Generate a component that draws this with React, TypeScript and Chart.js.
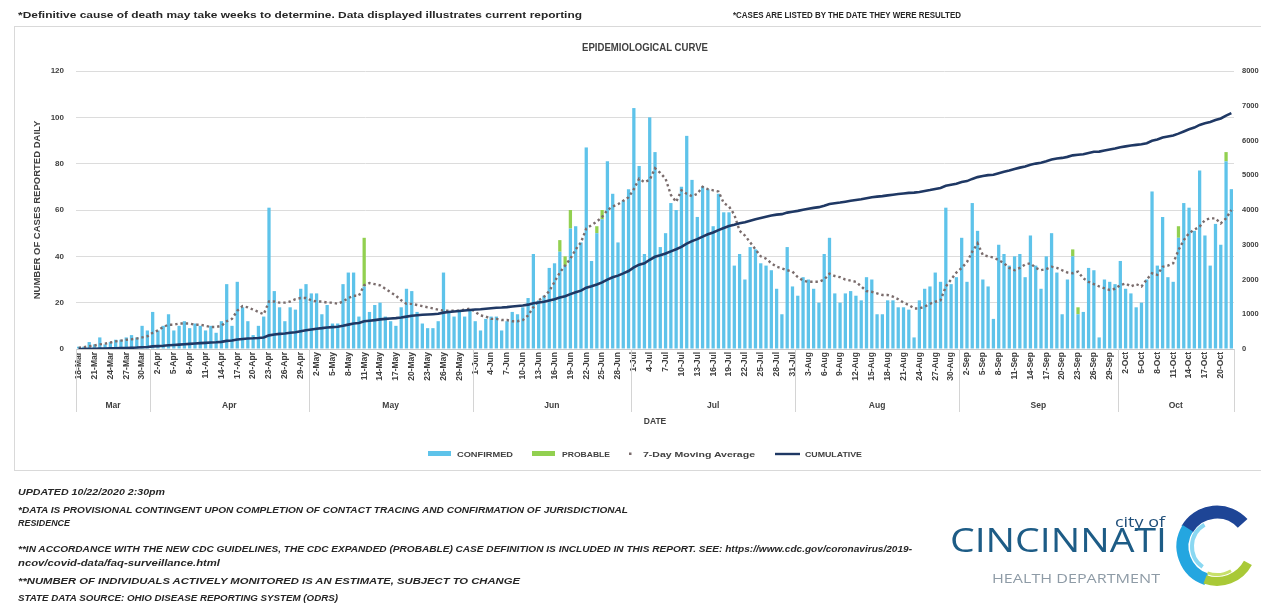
import React, { useEffect, useRef } from 'react';
import { Chart, registerables } from 'chart.js';

Chart.register(...registerables);

// ---------- categories ----------
const MONTHS = ['Mar', 'Apr', 'May', 'Jun', 'Jul', 'Aug', 'Sep', 'Oct'];
const MONTH_FIRST_DAY = [18, 1, 1, 1, 1, 1, 1, 1];
const MONTH_DAY_COUNT = [14, 30, 31, 30, 31, 31, 30, 22];
const TICK_EVERY = 3;

const DATES: string[] = [];
MONTHS.forEach((m, k) => {
  for (let i = 0; i < MONTH_DAY_COUNT[k]; i++) DATES.push(`${MONTH_FIRST_DAY[k] + i}-${m}`);
});

// ---------- series values ----------
const CONFIRMED = [
  // Mar 18-31
  1, 1, 3, 2, 5, 2, 3, 4, 4, 5, 6, 5, 10, 8,
  // Apr
  16, 8, 10, 15, 8, 10, 12, 9, 11, 10, 8, 10, 7, 12, 28, 10, 29, 18, 12, 6, 10, 14, 61, 25, 18, 12, 18, 17, 26, 28,
  // May
  24, 24, 15, 19, 11, 11, 28, 33, 33, 14, 27, 16, 19, 20, 14, 12, 10, 18, 26, 25, 16, 11, 9, 9, 12, 33, 16, 14, 16, 14, 17,
  // Jun
  12, 8, 13, 14, 14, 8, 12, 16, 15, 18, 22, 41, 21, 23, 35, 37, 42, 36, 52, 53, 46, 87, 38, 50, 56, 81, 67, 46, 64, 69,
  // Jul
  104, 79, 41, 100, 85, 44, 50, 63, 60, 70, 92, 73, 57, 70, 69, 53, 67, 59, 59, 36, 41, 30, 44, 43, 37, 36, 34, 26, 15, 44, 27,
  // Aug
  23, 31, 30, 26, 20, 41, 48, 24, 20, 24, 25, 23, 21, 31, 30, 15, 15, 21, 21, 18, 18, 17, 5, 21, 26, 27, 33, 29, 61, 28, 31,
  // Sep
  48, 29, 63, 51, 30, 27, 13, 45, 41, 36, 40, 41, 31, 49, 36, 26, 40, 50, 33, 15, 30, 40, 15, 16, 35, 34, 5, 30, 29, 28,
  // Oct 1-22
  38, 26, 24, 18, 20, 30, 68, 36, 57, 31, 29, 48, 63, 61, 51, 77, 49, 36, 54, 45, 81, 69,
];

const PROBABLE_DATES = ['11-May', '17-Jun', '18-Jun', '19-Jun', '24-Jun', '25-Jun', '22-Sep', '23-Sep', '12-Oct', '21-Oct'];
const PROBABLE_VALUES = [21, 5, 4, 8, 3, 4, 3, 3, 5, 4];

const MOVING_AVG = [
  // Mar
  0.5, 0.8, 1.2, 1.5, 2, 2.3, 2.8, 3.3, 3.6, 4, 4.2, 4.5, 5, 5.5,
  // Apr
  7, 8, 9.5, 10.5, 10.5, 11, 11, 11, 10.5, 10.5, 10, 9.5, 9.5, 10, 12, 13, 16.5, 18.5, 18, 17, 16, 15, 20.5, 20.5, 20, 20, 20.5, 21.5, 22, 22,
  // May
  21, 20.5, 20.5, 20, 20, 19.5, 20.5, 22, 23, 23, 27.5, 28.5, 28, 27.5, 26, 24.5, 23, 21, 19.5, 19.5, 19, 18.5, 18, 17.5, 17, 16.5, 16.5, 16.5, 16.5, 17, 17.5,
  // Jun
  16, 14.5, 14, 13, 13, 12.5, 12.5, 12, 12, 12.5, 14.5, 18, 21, 22.5, 25, 29, 33, 36, 39, 43, 46, 52, 53.5, 55, 57, 60, 61.5, 62.5, 64, 65.5,
  // Jul
  69, 73.5, 72, 73, 78, 76, 73.5, 66.5, 63.5, 68.5, 67, 66, 67, 70, 69, 68.5, 68, 63, 61.5, 58, 51, 49, 46, 43, 40, 39, 37, 35.5, 34.8, 34, 33.4,
  // Aug
  31, 29.5, 29, 29, 29, 30, 32.5, 31.5, 31, 30, 29.5, 29, 27, 25, 24.7, 24, 23.3, 23.3, 22.6, 21.5, 20, 19, 17.5, 17.5, 18.3, 19.5, 20.4, 21, 27, 30, 33,
  // Sep
  35, 37.5, 42, 45.6, 40.6, 40, 39.5, 38.4, 37, 35, 34, 35, 36.5, 37, 35, 34, 34.5, 35.5, 35, 34, 33, 32.7, 33.4, 30.5, 29, 28, 27, 26.2, 25.5, 26,
  // Oct
  27.6, 28.3, 27, 28, 27, 30, 32.7, 32, 35.5, 36, 37, 42.7, 47, 50, 51.5, 52.8, 55.7, 56.4, 56.4, 54.2, 56.4, 60,
];

const CUMULATIVE = [
  // Mar
  1, 2, 5, 7, 12, 14, 17, 21, 25, 30, 36, 41, 51, 59,
  // Apr
  75, 83, 93, 108, 116, 126, 138, 147, 158, 168, 176, 186, 193, 205, 233, 243, 272, 290, 302, 308, 318, 332, 393, 418, 436, 448, 466, 483, 509, 537,
  // May
  561, 585, 600, 619, 630, 641, 669, 702, 735, 749, 797, 813, 832, 852, 866, 878, 888, 906, 932, 957, 973, 984, 993, 1002, 1014, 1047, 1063, 1077, 1093, 1107, 1124,
  // Jun
  1136, 1144, 1157, 1171, 1185, 1193, 1205, 1221, 1236, 1254, 1276, 1317, 1338, 1361, 1396, 1433, 1480, 1520, 1580, 1633, 1679, 1766, 1804, 1857, 1917, 1998, 2065, 2111, 2175, 2244,
  // Jul
  2348, 2427, 2468, 2568, 2653, 2697, 2747, 2810, 2870, 2940, 3032, 3105, 3162, 3232, 3301, 3354, 3421, 3480, 3539, 3575, 3616, 3646, 3690, 3733, 3770, 3806, 3840, 3866, 3881, 3925, 3952,
  // Aug
  3975, 4006, 4036, 4062, 4082, 4123, 4171, 4195, 4215, 4239, 4264, 4287, 4308, 4339, 4369, 4384, 4399, 4420, 4441, 4459, 4477, 4494, 4499, 4520, 4546, 4573, 4606, 4635, 4696, 4724, 4755,
  // Sep
  4803, 4832, 4895, 4946, 4976, 5003, 5016, 5061, 5102, 5138, 5178, 5219, 5250, 5299, 5335, 5361, 5401, 5451, 5484, 5499, 5529, 5572, 5590, 5606, 5641, 5675, 5680, 5710, 5739, 5767,
  // Oct
  5805, 5831, 5855, 5873, 5893, 5923, 5991, 6027, 6084, 6115, 6144, 6197, 6260, 6321, 6372, 6449, 6498, 6534, 6588, 6633, 6718, 6787,
];

// axis ranges
const LEFT_MAX = 120;
const LEFT_STEP = 20;
const RIGHT_MAX = 8000;
const RIGHT_STEP = 1000;

const PROBABLE = DATES.map((d) => {
  const k = PROBABLE_DATES.indexOf(d);
  return k >= 0 ? PROBABLE_VALUES[k] : 0;
});

const FONT = "'Liberation Sans', Arial, sans-serif";
const SVG_FONT = "'Liberation Sans Narrow', 'Liberation Sans', Arial, sans-serif";
const TEXT = '#404040';

const monthRowPlugin = {
  id: 'monthRow',
  afterDraw(chart: any) {
    const { ctx, chartArea } = chart;
    const x = chart.scales.x;
    const half = (x.getPixelForValue(1) - x.getPixelForValue(0)) / 2;
    const top = chartArea.bottom;
    const bottom = chartArea.bottom + 63;
    ctx.save();
    ctx.strokeStyle = '#d4d4d4';
    ctx.lineWidth = 1;
    ctx.fillStyle = TEXT;
    ctx.font = `bold 8.5px ${FONT}`;
    ctx.textAlign = 'center';
    ctx.textBaseline = 'middle';
    const vline = (px: number) => {
      const p = Math.round(px) + 0.5;
      ctx.beginPath();
      ctx.moveTo(p, top);
      ctx.lineTo(p, bottom);
      ctx.stroke();
    };
    let idx = 0;
    MONTHS.forEach((m, k) => {
      const start = idx;
      const end = idx + MONTH_DAY_COUNT[k] - 1;
      const x0 = x.getPixelForValue(start) - half;
      const x1 = x.getPixelForValue(end) + half;
      vline(x0);
      if (k === MONTHS.length - 1) vline(x1);
      ctx.fillText(m, (x0 + x1) / 2, chartArea.bottom + 57);
      idx = end + 1;
    });
    ctx.restore();
  },
};

function T(props: {
  x: number; y: number; len: number; size: number; children: string;
  weight?: string; italic?: boolean; fill?: string; family?: string;
}) {
  return (
    <text
      x={props.x}
      y={props.y}
      textLength={props.len}
      lengthAdjust="spacingAndGlyphs"
      fontSize={props.size}
      fontWeight={props.weight ?? 'bold'}
      fontStyle={props.italic ? 'italic' : 'normal'}
      fill={props.fill ?? '#262626'}
      fontFamily={props.family ?? SVG_FONT}
    >
      {props.children}
    </text>
  );
}

function arcPath(cx: number, cy: number, r: number, a0: number, a1: number) {
  // angles in degrees, math convention (counter-clockwise, y up)
  const p = (a: number) => [cx + r * Math.cos((a * Math.PI) / 180), cy - r * Math.sin((a * Math.PI) / 180)];
  const [x0, y0] = p(a0);
  const [x1, y1] = p(a1);
  const large = Math.abs(a1 - a0) > 180 ? 1 : 0;
  return `M ${x0.toFixed(2)} ${y0.toFixed(2)} A ${r} ${r} 0 ${large} 0 ${x1.toFixed(2)} ${y1.toFixed(2)}`;
}

export default function App() {
  const canvasRef = useRef<HTMLCanvasElement>(null);

  useEffect(() => {
    if (!canvasRef.current) return;
    const chart = new Chart(canvasRef.current, {
      type: 'bar',
      data: {
        labels: DATES,
        datasets: [
          {
            type: 'line',
            label: 'CUMULATIVE',
            data: CUMULATIVE,
            yAxisID: 'y1',
            borderColor: '#1f3864',
            borderWidth: 2.6,
            pointRadius: 0,
            tension: 0,
            order: 0,
            stack: 'cum',
          } as any,
          {
            type: 'line',
            label: '7-Day Moving Average',
            data: MOVING_AVG,
            yAxisID: 'y',
            borderColor: '#7a6c6c',
            borderWidth: 2.4,
            borderDash: [2.4, 2.9],
            pointRadius: 0,
            tension: 0,
            order: 1,
            stack: 'avg',
          } as any,
          {
            type: 'bar',
            label: 'CONFIRMED',
            data: CONFIRMED,
            yAxisID: 'y',
            backgroundColor: '#5ec3ea',
            barPercentage: 0.62,
            categoryPercentage: 1,
            order: 2,
            stack: 'cases',
          },
          {
            type: 'bar',
            label: 'PROBABLE',
            data: PROBABLE,
            yAxisID: 'y',
            backgroundColor: '#92d050',
            barPercentage: 0.62,
            categoryPercentage: 1,
            order: 3,
            stack: 'cases',
          },
        ],
      },
      options: {
        animation: false,
        responsive: true,
        maintainAspectRatio: false,
        layout: { padding: { left: 14, right: 0, top: 44, bottom: 36 } },
        plugins: {
          legend: { display: false },
          title: { display: false },
          tooltip: { enabled: false },
        },
        scales: {
          x: {
            stacked: true,
            grid: { display: false, drawTicks: false },
            border: { display: true, color: '#c8c8c8' },
            ticks: {
              autoSkip: false,
              minRotation: 90,
              maxRotation: 90,
              padding: 3,
              color: TEXT,
              font: { family: FONT, size: 8.5, weight: 'bold' },
              callback: (_v: any, i: number) => (i % TICK_EVERY === 0 ? DATES[i] : ''),
            },
            title: {
              display: true,
              text: 'DATE',
              color: TEXT,
              font: { family: FONT, size: 8.5, weight: 'bold' },
              padding: { top: 0, bottom: 7 },
            },
            afterFit: (s: any) => { s.height = 85; },
          },
          y: {
            stacked: true,
            position: 'left',
            min: 0,
            max: LEFT_MAX,
            grid: { color: '#dcdcdc', drawTicks: false },
            border: { display: false },
            ticks: {
              stepSize: LEFT_STEP,
              padding: 12,
              color: TEXT,
              font: { family: FONT, size: 8, weight: 'bold' },
            },
            title: {
              display: true,
              text: 'NUMBER OF CASES REPORTED DAILY',
              color: TEXT,
              font: { family: FONT, size: 9.5, weight: 'bold' },
              padding: { top: 4, bottom: 0 },
            },
            afterFit: (s: any) => { s.width = 48; },
          },
          y1: {
            position: 'right',
            min: 0,
            max: RIGHT_MAX,
            grid: { display: false, drawTicks: false },
            border: { display: false },
            ticks: {
              stepSize: RIGHT_STEP,
              padding: 8,
              color: TEXT,
              font: { family: FONT, size: 7.5, weight: 'bold' },
              callback: (v: any) => String(v),
            },
            afterFit: (s: any) => { s.width = 27; },
          },
        },
      } as any,
      plugins: [monthRowPlugin],
    });
    return () => chart.destroy();
  }, []);

  const cx = 1217;
  const cy = 546.5;

  return (
    <div style={{ position: 'absolute', left: 0, top: 0, width: 1261, height: 605, overflow: 'hidden', background: '#ffffff' }}>
      <div
        style={{
          position: 'absolute', left: 14, top: 26, width: 1270, height: 445,
          border: '1px solid #d9d9d9', boxSizing: 'border-box',
        }}
      />
      <div style={{ position: 'absolute', left: 14, top: 27, width: 1247, height: 443 }}>
        <canvas ref={canvasRef} style={{ display: 'block' }} />
      </div>
      <svg
        width={1261}
        height={605}
        style={{ position: 'absolute', left: 0, top: 0, pointerEvents: 'none' }}
      >
        {/* header notes */}
        <T x={18} y={18} len={564} size={9.5}>*Definitive cause of death may take weeks to determine. Data displayed illustrates current reporting</T>
        <T x={733} y={18} len={228} size={9.5}>*CASES ARE LISTED BY THE DATE THEY WERE RESULTED</T>

        {/* chart title */}
        <T x={582} y={51} len={126} size={10} fill="#404040">EPIDEMIOLOGICAL CURVE</T>

        {/* legend */}
        <rect x={428} y={451} width={23} height={5} fill="#5ec3ea" />
        <T x={457} y={457} len={56} size={8} fill="#404040">CONFIRMED</T>
        <rect x={532} y={451} width={23} height={5} fill="#92d050" />
        <T x={562} y={457} len={48} size={8} fill="#404040">PROBABLE</T>
        <rect x={629} y={452.5} width={2.5} height={2.5} fill="#7a6c6c" />
        <T x={643} y={457} len={112} size={8} fill="#404040">7-Day Moving Average</T>
        <line x1={775} y1={454} x2={800} y2={454} stroke="#1f3864" strokeWidth={2.4} />
        <T x={805} y={457} len={57} size={8} fill="#404040">CUMULATIVE</T>

        {/* footnotes */}
        <T x={18} y={495} len={147} size={8.5} italic>UPDATED 10/22/2020 2:30pm</T>
        <T x={18} y={513} len={610} size={8.5} italic>*DATA IS PROVISIONAL CONTINGENT UPON COMPLETION OF CONTACT TRACING AND CONFIRMATION OF JURISDICTIONAL</T>
        <T x={18} y={526} len={52} size={8.5} italic>RESIDENCE</T>
        <T x={18} y={552} len={894} size={8.5} italic>**IN ACCORDANCE WITH THE NEW CDC GUIDELINES, THE CDC EXPANDED (PROBABLE) CASE DEFINITION IS INCLUDED IN THIS REPORT. SEE: https://www.cdc.gov/coronavirus/2019-</T>
        <T x={18} y={566} len={202} size={8.5} italic>ncov/covid-data/faq-surveillance.html</T>
        <T x={18} y={584} len={502} size={9} italic>**NUMBER OF INDIVIDUALS ACTIVELY MONITORED IS AN ESTIMATE, SUBJECT TO CHANGE</T>
        <T x={18} y={601} len={320} size={8.5} italic>STATE DATA SOURCE: OHIO DISEASE REPORTING SYSTEM (ODRS)</T>

        {/* logo */}
        <T x={1115} y={527} len={50} size={15} weight="normal" fill="#1f4e79" family="'Open Sans', 'Liberation Sans', sans-serif">city of</T>
        <T x={950} y={552} len={217} size={33} weight="normal" fill="#1d5c86" family="'Open Sans', 'Liberation Sans', sans-serif">CINCINNATI</T>
        <T x={992} y={583} len={168} size={13} weight="normal" fill="#8e9ba6" family="'Open Sans', 'Liberation Sans', sans-serif">HEALTH DEPARTMENT</T>
        <path d={arcPath(cx, cy, 34.5, 42, 150)} stroke="#1e4596" strokeWidth={13} fill="none" />
        <path d={arcPath(cx, cy, 34.5, 148, 252)} stroke="#24a6e0" strokeWidth={12} fill="none" />
        <path d={arcPath(cx, cy, 35, 250, 332)} stroke="#a9c937" strokeWidth={9} fill="none" />
        <path d={arcPath(cx, cy, 25, 120, 235)} stroke="#8ad8f2" strokeWidth={4} fill="none" />
        <path d={arcPath(cx, cy, 28, 250, 300)} stroke="#c8e06a" strokeWidth={3} fill="none" />
      </svg>
    </div>
  );
}
